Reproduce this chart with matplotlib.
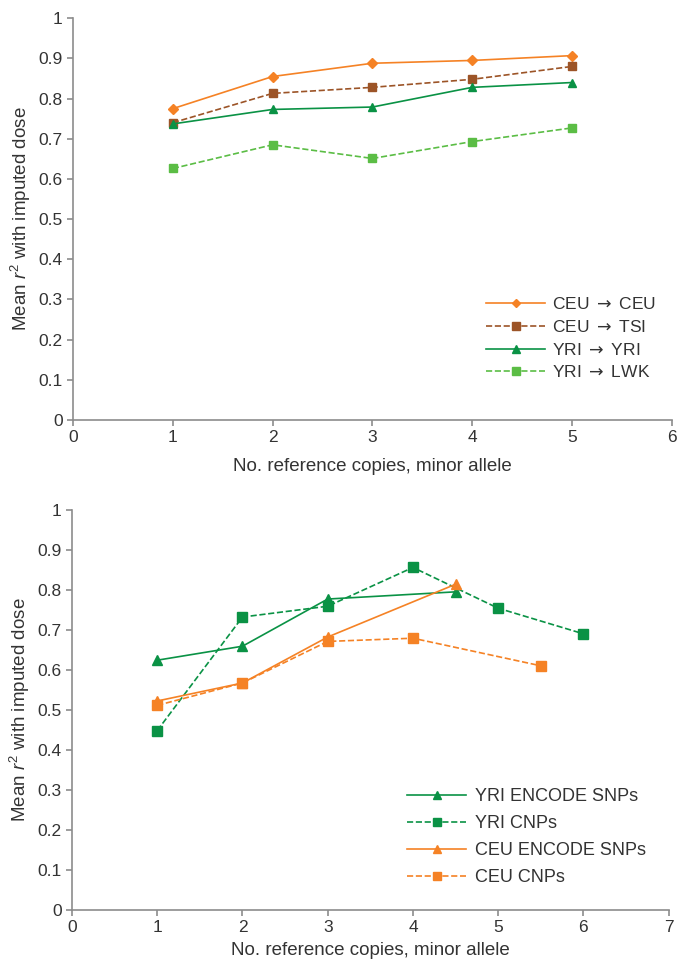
import matplotlib
matplotlib.use('Agg')
import matplotlib.pyplot as plt

plt.rcParams['font.family'] = ['Liberation Sans', 'DejaVu Sans']
plt.rcParams['mathtext.fontset'] = 'custom'
plt.rcParams['mathtext.rm'] = 'Liberation Sans'
plt.rcParams['mathtext.it'] = 'Liberation Sans:italic'
plt.rcParams['mathtext.sf'] = 'DejaVu Sans'

# top panel data
top_x = [1, 2, 3, 4, 5]
ceu_ceu = [0.775, 0.855, 0.888, 0.895, 0.907]
ceu_tsi = [0.740, 0.813, 0.828, 0.848, 0.880]
yri_yri = [0.737, 0.773, 0.779, 0.828, 0.840]
yri_lwk = [0.626, 0.685, 0.651, 0.693, 0.727]
top_labels = ['CEU', 'CEU', 'CEU', 'TSI', 'YRI', 'YRI', 'YRI', 'LWK']

# bottom panel data
yri_snp_x = [1, 2, 3, 4.5]
yri_snp = [0.625, 0.660, 0.778, 0.796]
yri_cnp_x = [1, 2, 3, 4, 5, 6]
yri_cnp = [0.449, 0.733, 0.760, 0.857, 0.755, 0.691]
ceu_snp_x = [1, 2, 3, 4.5]
ceu_snp = [0.523, 0.568, 0.683, 0.815]
ceu_cnp_x = [1, 2, 3, 4, 5.5]
ceu_cnp = [0.512, 0.568, 0.672, 0.680, 0.611]

orange = '#F58225'
brown = '#9C5427'
dgreen = '#0A9245'
lgreen = '#5BBD45'
grey = '#8C8C8C'
txt = '#333333'


def arrow_label(a, b):
    return a + r' $\mathsf{\rightarrow}$ ' + b


fig = plt.figure(figsize=(6.89, 9.61), dpi=100)
ax1 = fig.add_axes([0.106, 0.563, 0.869, 0.418])
ax2 = fig.add_axes([0.1045, 0.053, 0.866, 0.416])

ax1.plot(top_x, ceu_ceu, color=orange, lw=1.2, marker='D', ms=5, label=arrow_label('CEU', 'CEU'))
ax1.plot(top_x, ceu_tsi, color=brown, lw=1.2, ls='--', marker='s', ms=6, label=arrow_label('CEU', 'TSI'))
ax1.plot(top_x, yri_yri, color=dgreen, lw=1.2, marker='^', ms=6, label=arrow_label('YRI', 'YRI'))
ax1.plot(top_x, yri_lwk, color=lgreen, lw=1.2, ls='--', marker='s', ms=6, label=arrow_label('YRI', 'LWK'))
ax1.set_xlim(0, 6)

ax2.plot(yri_snp_x, yri_snp, color=dgreen, lw=1.2, marker='^', ms=7, label='YRI ENCODE SNPs')
ax2.plot(yri_cnp_x, yri_cnp, color=dgreen, lw=1.2, ls='--', marker='s', ms=7, label='YRI CNPs')
ax2.plot(ceu_snp_x, ceu_snp, color=orange, lw=1.2, marker='^', ms=7, label='CEU ENCODE SNPs')
ax2.plot(ceu_cnp_x, ceu_cnp, color=orange, lw=1.2, ls='--', marker='s', ms=7, label='CEU CNPs')
ax2.set_xlim(0, 7)

for ax in (ax1, ax2):
    ax.set_ylim(0, 1)
    ax.set_yticks([i / 10 for i in range(11)])
    ax.set_yticklabels(['0', '0.1', '0.2', '0.3', '0.4', '0.5', '0.6', '0.7', '0.8', '0.9', '1'])
    ax.spines['top'].set_visible(False)
    ax.spines['right'].set_visible(False)
    ax.spines['left'].set_color(grey)
    ax.spines['bottom'].set_color(grey)
    ax.spines['left'].set_linewidth(1.2)
    ax.spines['bottom'].set_linewidth(1.2)
    ax.tick_params(colors=grey, labelcolor=txt, labelsize=12.5, length=4, width=1.2)
    ax.set_xlabel('No. reference copies, minor allele', fontsize=13.5, color=txt, labelpad=9)
    ax.set_ylabel(r'Mean $r^2$ with imputed dose', fontsize=13.5, color=txt, labelpad=4)

ax1.legend(loc='lower right', bbox_to_anchor=(1.0, 0.06), frameon=False, fontsize=12.5,
           handlelength=3.4, labelspacing=0.38, handletextpad=0.4, markerscale=0.85,
           labelcolor=txt)
ax2.legend(loc='lower right', bbox_to_anchor=(0.99, 0.02), frameon=False, fontsize=13,
           handlelength=3.3, labelspacing=0.55, handletextpad=0.5, markerscale=0.8,
           labelcolor=txt)

ax2.xaxis.labelpad = 5
fig.savefig('out.png', dpi=100)
